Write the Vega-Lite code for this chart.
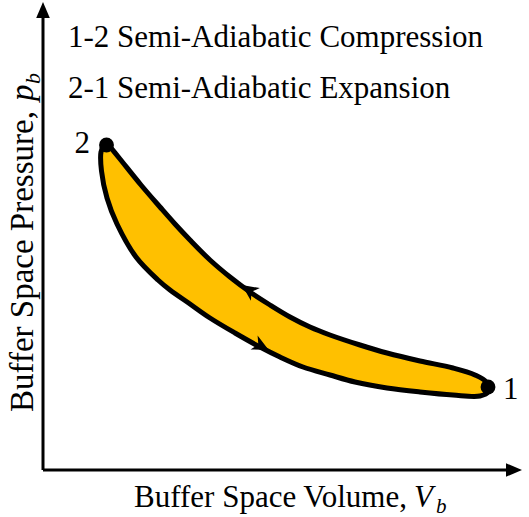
{
  "$schema": "https://vega.github.io/schema/vega-lite/v6.json",
  "width": 529,
  "height": 517,
  "padding": 0,
  "autosize": {"type": "none"},
  "background": "white",
  "config": {"view": {"stroke": null}},
  "datasets": {
    "loop": [
      {"i": 1, "V": 1.28, "p": 6.54}, {"i": 2, "V": 1.54, "p": 6.22}, {"i": 3, "V": 1.96, "p": 5.70},
      {"i": 4, "V": 2.34, "p": 5.26}, {"i": 5, "V": 2.64, "p": 4.92}, {"i": 6, "V": 2.94, "p": 4.60},
      {"i": 7, "V": 3.34, "p": 4.20}, {"i": 8, "V": 3.74, "p": 3.86}, {"i": 9, "V": 4.14, "p": 3.56},
      {"i": 10, "V": 4.54, "p": 3.30}, {"i": 11, "V": 4.94, "p": 3.06}, {"i": 12, "V": 5.34, "p": 2.86},
      {"i": 13, "V": 5.74, "p": 2.70}, {"i": 14, "V": 6.34, "p": 2.50}, {"i": 15, "V": 6.88, "p": 2.34},
      {"i": 16, "V": 7.54, "p": 2.18}, {"i": 17, "V": 8.20, "p": 2.04}, {"i": 18, "V": 8.64, "p": 1.90},
      {"i": 19, "V": 8.86, "p": 1.76}, {"i": 20, "V": 8.90, "p": 1.56}, {"i": 21, "V": 8.74, "p": 1.48},
      {"i": 22, "V": 8.20, "p": 1.50}, {"i": 23, "V": 7.54, "p": 1.56}, {"i": 24, "V": 6.88, "p": 1.64},
      {"i": 25, "V": 6.24, "p": 1.76}, {"i": 26, "V": 5.74, "p": 1.90}, {"i": 27, "V": 5.20, "p": 2.06},
      {"i": 28, "V": 4.74, "p": 2.26}, {"i": 29, "V": 4.34, "p": 2.46}, {"i": 30, "V": 3.84, "p": 2.74},
      {"i": 31, "V": 3.34, "p": 3.04}, {"i": 32, "V": 2.94, "p": 3.32}, {"i": 33, "V": 2.54, "p": 3.60},
      {"i": 34, "V": 2.30, "p": 3.80}, {"i": 35, "V": 1.86, "p": 4.26}, {"i": 36, "V": 1.48, "p": 4.92},
      {"i": 37, "V": 1.28, "p": 5.44}, {"i": 38, "V": 1.17, "p": 5.98}, {"i": 39, "V": 1.16, "p": 6.36},
      {"i": 40, "V": 1.22, "p": 6.50}, {"i": 41, "V": 1.28, "p": 6.54}
    ],
    "states": [
      {"state": "1", "V": 8.90, "p": 1.66},
      {"state": "2", "V": 1.27, "p": 6.50}
    ],
    "flow": [
      {"path": "2-1 expansion", "V": 4.12, "p": 3.60, "dir": 305},
      {"path": "1-2 compression", "V": 4.36, "p": 2.48, "dir": 117}
    ],
    "axes": [
      {"axis": "V", "V": 0, "p": 0, "V2": 9.26, "p2": 0},
      {"axis": "p", "V": 0, "p": 0, "V2": 0, "p2": 9.04}
    ],
    "axisTips": [
      {"axis": "V", "V": 9.42, "p": 0, "dir": 90},
      {"axis": "p", "V": 0, "p": 9.2, "dir": 0}
    ],
    "notesLeft": [
      {"V": 0.5, "p": 8.46, "label": "1-2 Semi-Adiabatic Compression"},
      {"V": 0.5, "p": 7.44, "label": "2-1 Semi-Adiabatic Expansion"},
      {"V": 9.2, "p": 1.42, "label": "1"}
    ],
    "notesRight": [
      {"V": 0.94, "p": 6.34, "label": "2"}
    ],
    "xTitle": [{"V": 7.28, "p": -0.74, "label": "Buffer Space Volume,"}],
    "xTitleSym": [{"V": 7.42, "p": -0.74, "label": "V"}],
    "xTitleSub": [{"V": 7.86, "p": -0.86, "label": "b"}],
    "yTitle": [{"V": -0.2, "p": 1.16, "label": "Buffer Space Pressure,"}],
    "yTitleSym": [{"V": -0.2, "p": 7.38, "label": "p"}],
    "yTitleSub": [{"V": -0.06, "p": 7.72, "label": "b"}]
  },
  "encoding": {
    "x": {"field": "V", "type": "quantitative", "scale": {"domain": [-0.86, 9.72], "nice": false, "zero": false}, "axis": null},
    "y": {"field": "p", "type": "quantitative", "scale": {"domain": [-0.94, 9.4], "nice": false, "zero": false}, "axis": null}
  },
  "layer": [
    {
      "data": {"name": "axes"},
      "mark": {"type": "rule", "stroke": "black", "strokeWidth": 3},
      "encoding": {"x2": {"field": "V2"}, "y2": {"field": "p2"}}
    },
    {
      "data": {"name": "axisTips"},
      "mark": {"type": "point", "shape": "M0,-1L0.85,1L-0.85,1Z", "filled": true, "color": "black", "size": 256, "opacity": 1},
      "encoding": {"angle": {"field": "dir", "type": "quantitative", "scale": null}}
    },
    {
      "data": {"name": "loop"},
      "mark": {"type": "line", "fill": "#FFC000", "stroke": "black", "strokeWidth": 5, "strokeJoin": "round", "interpolate": "catmull-rom"},
      "encoding": {"order": {"field": "i", "type": "quantitative"}}
    },
    {
      "data": {"name": "flow"},
      "mark": {"type": "point", "shape": "M0,-1L0.9,0.9L0,0.35L-0.9,0.9Z", "filled": true, "color": "black", "size": 300, "opacity": 1},
      "encoding": {"angle": {"field": "dir", "type": "quantitative", "scale": null}}
    },
    {
      "data": {"name": "states"},
      "mark": {"type": "circle", "color": "black", "size": 220, "opacity": 1}
    },
    {
      "data": {"name": "notesLeft"},
      "mark": {"type": "text", "font": "Liberation Serif", "fontSize": 31, "align": "left", "baseline": "alphabetic", "color": "black"},
      "encoding": {"text": {"field": "label"}}
    },
    {
      "data": {"name": "notesRight"},
      "mark": {"type": "text", "font": "Liberation Serif", "fontSize": 31, "align": "right", "baseline": "alphabetic", "color": "black"},
      "encoding": {"text": {"field": "label"}}
    },
    {
      "data": {"name": "xTitle"},
      "mark": {"type": "text", "font": "Liberation Serif", "fontSize": 31, "align": "right", "baseline": "alphabetic", "color": "black"},
      "encoding": {"text": {"field": "label"}}
    },
    {
      "data": {"name": "xTitleSym"},
      "mark": {"type": "text", "font": "Liberation Serif", "fontSize": 31, "fontStyle": "italic", "align": "left", "baseline": "alphabetic", "color": "black"},
      "encoding": {"text": {"field": "label"}}
    },
    {
      "data": {"name": "xTitleSub"},
      "mark": {"type": "text", "font": "Liberation Serif", "fontSize": 21, "fontStyle": "italic", "align": "left", "baseline": "alphabetic", "color": "black"},
      "encoding": {"text": {"field": "label"}}
    },
    {
      "data": {"name": "yTitle"},
      "mark": {"type": "text", "font": "Liberation Serif", "fontSize": 33, "angle": 270, "align": "left", "baseline": "alphabetic", "color": "black"},
      "encoding": {"text": {"field": "label"}}
    },
    {
      "data": {"name": "yTitleSym"},
      "mark": {"type": "text", "font": "Liberation Serif", "fontSize": 33, "angle": 270, "fontStyle": "italic", "align": "left", "baseline": "alphabetic", "color": "black"},
      "encoding": {"text": {"field": "label"}}
    },
    {
      "data": {"name": "yTitleSub"},
      "mark": {"type": "text", "font": "Liberation Serif", "fontSize": 22, "angle": 270, "fontStyle": "italic", "align": "left", "baseline": "alphabetic", "color": "black"},
      "encoding": {"text": {"field": "label"}}
    }
  ]
}
